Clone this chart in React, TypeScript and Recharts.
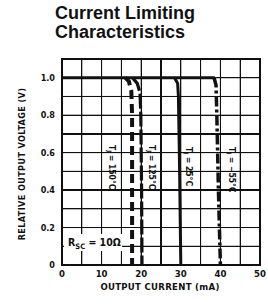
import React from 'react';
import { LineChart, Line, XAxis, YAxis, CartesianGrid } from 'recharts';

// axis ticks (mA, volts)
const xTicks = [0, 5, 10, 15, 20, 25, 30, 35, 40, 45, 50];
const yTicks = [0, 0.1, 0.2, 0.3, 0.4, 0.5, 0.6, 0.7, 0.8, 0.9, 1.0, 1.1];

// common flat part at 1.0 V
const flat = [
  { i: 0, v: 1.0 },
  { i: 38.6, v: 1.0 },
];
// Tj = 150°C
const t150 = [
  { i: 16.0, v: 1.0 },
  { i: 16.9, v: 0.98 },
  { i: 17.5, v: 0.93 },
  { i: 17.7, v: 0.8 },
  { i: 17.7, v: 0 },
];
// Tj = 125°C
const t125 = [
  { i: 17.8, v: 1.0 },
  { i: 19.0, v: 0.97 },
  { i: 19.7, v: 0.92 },
  { i: 19.9, v: 0.8 },
  { i: 20.1, v: 0.4 },
  { i: 20.2, v: 0 },
];
// Tj = 25°C
const t25 = [
  { i: 28.4, v: 1.0 },
  { i: 29.2, v: 0.97 },
  { i: 29.4, v: 0.9 },
  { i: 29.7, v: 0.5 },
  { i: 30.0, v: 0 },
];
// Tj = -55°C
const t55 = [
  { i: 38.4, v: 1.0 },
  { i: 38.9, v: 0.96 },
  { i: 39.1, v: 0.8 },
  { i: 39.5, v: 0.4 },
  { i: 40.0, v: 0 },
];

const X_MAX = 50;
const Y_MAX = 1.1;

// chart box
const W = 268;
const H = 304;
const M = { top: 59, right: 8, bottom: 0, left: 0 };
const Y_W = 62;
const X_H = 39;
const PL = M.left + Y_W;
const PT = M.top;
const PW = W - M.right - PL;
const PH = H - M.bottom - X_H - PT;

const NARROW = '"DejaVu Sans Condensed", "Liberation Sans Narrow", "DejaVu Sans", sans-serif';
const INK = '#111';

function VLabel({ left, top, temp }: { left: number; top: number; temp: string }) {
  return (
    <div
      style={{
        position: 'absolute',
        left,
        top,
        writingMode: 'vertical-rl',
        fontFamily: NARROW,
        fontWeight: 700,
        fontSize: 8.5,
        color: INK,
        whiteSpace: 'nowrap',
        lineHeight: 1,
      }}
    >
      T<sub style={{ fontSize: 6 }}>J</sub> = {temp}
    </div>
  );
}

// backing grid behind the svg, same linear mapping as the chart scales
function Grid() {
  return (
    <>
      {xTicks.map((x) => {
        const w = x === 0 || x === X_MAX ? 2 : 1.3;
        return (
          <div
            key={`vx${x}`}
            style={{ position: 'absolute', left: PL + (x / X_MAX) * PW - w / 2, top: PT - 1, width: w, height: PH + 2, background: INK }}
          />
        );
      })}
      {yTicks.map((y) => {
        const w = y === 0 || y === Y_MAX ? 2 : 1.3;
        return (
          <div
            key={`hy${y}`}
            style={{ position: 'absolute', left: PL - 1, top: PT + (1 - y / Y_MAX) * PH - w / 2, width: PW + 2, height: w, background: INK }}
          />
        );
      })}
    </>
  );
}

export default function App() {
  const fmtX = (v: number) => (v % 10 === 0 ? String(v) : '');
  const fmtY = (v: number) => {
    const k = Math.round(v * 10);
    if (k % 2 !== 0 || k > 10) return '';
    return k === 0 ? '0' : (k / 10).toFixed(1);
  };

  return (
    <div
      style={{
        position: 'absolute',
        left: 0,
        top: 0,
        width: W,
        height: H,
        background: '#fff',
        overflow: 'hidden',
      }}
    >
      <div
        style={{
          position: 'absolute',
          left: 55,
          top: 4,
          fontFamily: '"Liberation Sans", Arial, sans-serif',
          fontWeight: 700,
          fontSize: 18,
          lineHeight: '19px',
          color: INK,
        }}
      >
        Current Limiting
        <br />
        Characteristics
      </div>

      <Grid />

      <div style={{ position: 'absolute', left: 0, top: 0 }}>
        <LineChart width={W} height={H} data={flat} margin={M}>
          <CartesianGrid stroke={INK} strokeWidth={1} />
          <XAxis
            dataKey="i"
            type="number"
            domain={[0, X_MAX]}
            ticks={xTicks}
            interval={0}
            tickFormatter={fmtX}
            tickLine={false}
            tickSize={0}
            tickMargin={5}
            height={X_H}
            axisLine={false}
            tick={{ fontSize: 9.5, fontWeight: 700, fill: INK, fontFamily: NARROW }}
          />
          <YAxis
            dataKey="v"
            type="number"
            domain={[0, Y_MAX]}
            ticks={yTicks}
            interval={0}
            tickFormatter={fmtY}
            tickLine={false}
            tickSize={0}
            tickMargin={7}
            width={Y_W}
            axisLine={false}
            tick={{ fontSize: 9, fontWeight: 700, fill: INK, fontFamily: NARROW }}
          />
          <Line dataKey="v" type="linear" stroke={INK} strokeWidth={3.2} dot={false} isAnimationActive={false} />
          <Line data={t150} dataKey="v" type="linear" stroke={INK} strokeWidth={4} strokeDasharray="9 5" dot={false} isAnimationActive={false} />
          <Line data={t125} dataKey="v" type="linear" stroke={INK} strokeWidth={3.2} strokeDasharray="15 3" dot={false} isAnimationActive={false} />
          <Line data={t25} dataKey="v" type="linear" stroke={INK} strokeWidth={3} dot={false} isAnimationActive={false} />
          <Line data={t55} dataKey="v" type="linear" stroke={INK} strokeWidth={3.5} strokeDasharray="10 3 3 3" dot={false} isAnimationActive={false} />
        </LineChart>
      </div>

      <VLabel left={106} top={145} temp="150°C" />
      <VLabel left={146} top={145} temp="125°C" />
      <VLabel left={183} top={147} temp="25°C" />
      <VLabel left={226} top={147} temp="−55°C" />

      <div
        style={{
          position: 'absolute',
          left: 64,
          top: 234,
          width: 58,
          height: 17,
          background: '#fff',
          fontFamily: NARROW,
          fontWeight: 700,
          fontSize: 10.5,
          color: INK,
          lineHeight: '17px',
          paddingLeft: 4,
          boxSizing: 'border-box',
          whiteSpace: 'nowrap',
        }}
      >
        R<sub style={{ fontSize: 7.5 }}>SC</sub> = 10Ω
      </div>

      <div
        style={{
          position: 'absolute',
          left: 160,
          top: 281,
          transform: 'translateX(-50%)',
          fontFamily: NARROW,
          fontWeight: 700,
          fontSize: 9.5,
          letterSpacing: 0.3,
          color: INK,
          whiteSpace: 'nowrap',
        }}
      >
        OUTPUT CURRENT (mA)
      </div>

      <div
        style={{
          position: 'absolute',
          left: 17,
          top: 164,
          transform: 'translate(0, -50%) rotate(180deg)',
          writingMode: 'vertical-rl',
          fontFamily: NARROW,
          fontWeight: 700,
          fontSize: 9,
          letterSpacing: 0.4,
          color: INK,
          whiteSpace: 'nowrap',
        }}
      >
        RELATIVE OUTPUT VOLTAGE (V)
      </div>
    </div>
  );
}
